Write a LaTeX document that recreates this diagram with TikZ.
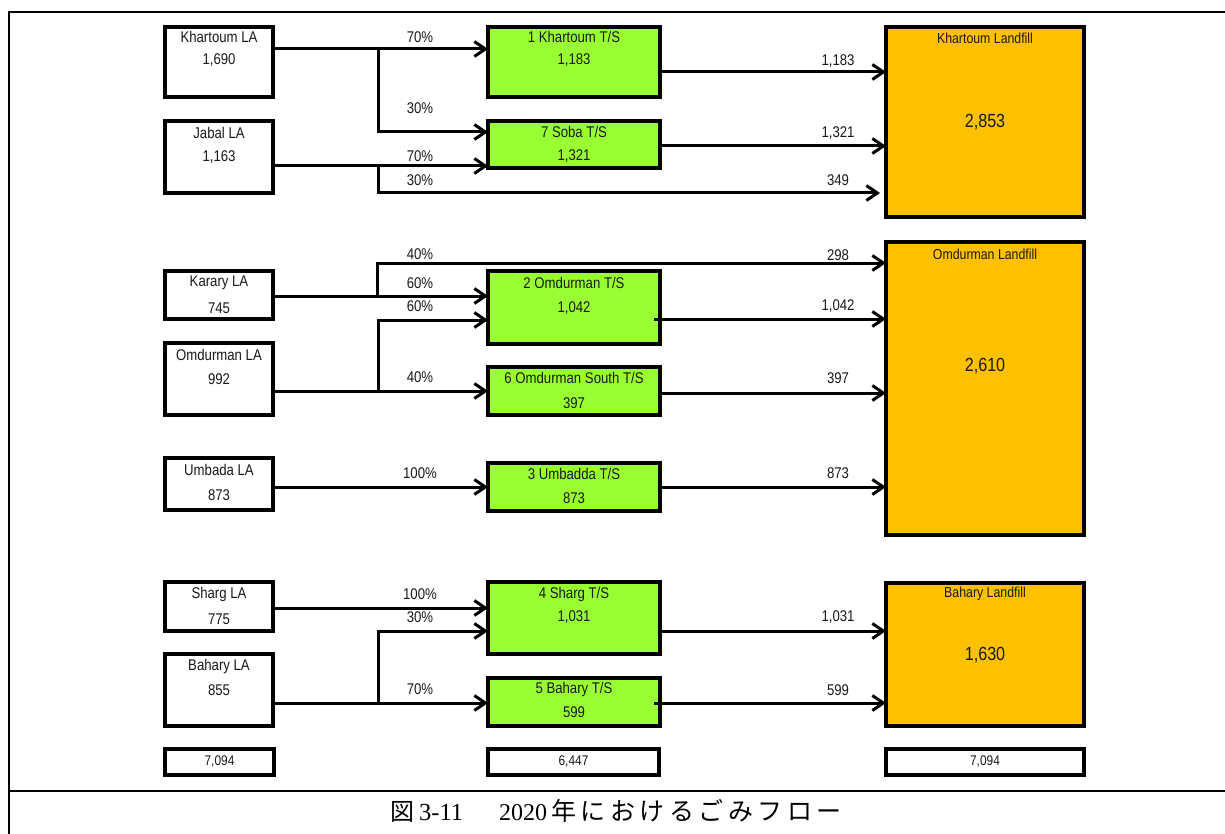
\documentclass[tikz,border=0pt]{standalone}
\usepackage{fontspec}
\setmainfont{Liberation Sans}[FakeStretch=0.85]
\newfontfamily\jpfont{Noto Sans CJK JP}
\newfontfamily\jpspaced{Noto Sans CJK JP}[LetterSpace=18]
\newfontfamily\capserif{Liberation Serif}
\usetikzlibrary{arrows.meta}
\definecolor{tsgreen}{RGB}{153,255,51}
\definecolor{lforange}{RGB}{255,192,0}
\definecolor{txt}{RGB}{25,25,25}
\begin{document}
\begin{tikzpicture}[x=1pt,y=-1pt,
  box/.style={draw=black,line width=3.5pt,anchor=north west,inner sep=0pt,outer sep=0pt},
  labox/.style={box,fill=white,minimum width=108pt},
  tsbox/.style={box,fill=tsgreen,minimum width=172pt},
  lfbox/.style={box,fill=lforange,minimum width=198pt},
  totbox/.style={box,fill=white,minimum height=26pt},
  lbl/.style={text=txt,font=\fontsize{15.5}{18}\selectfont,inner sep=0pt},
  big/.style={text=txt,font=\fontsize{19}{22}\selectfont,inner sep=0pt},
  small/.style={text=txt,font=\fontsize{14}{16}\selectfont,inner sep=0pt},
  captext/.style={inner sep=0pt,anchor=base west,text=black},
  arr/.style={line width=3pt,-{Straight Barb[length=11pt,width=15pt,line width=3pt]}},
]
\useasboundingbox (0,0) rectangle (1225,834);
% frame
\draw[line width=2.2pt] (1225,12) -- (9,12) -- (9,834);
\draw[line width=2.2pt] (9,791) -- (1225,791);
\node[captext] (capa) at (390,820) {\fontsize{24}{26}\selectfont\jpfont 図};
\node[captext] (capb) at (419,820) {\fontsize{24.5}{26}\selectfont\capserif 3-11};
\node[captext] (capc) at (499,820) {\fontsize{24}{26}\selectfont\capserif 2020};
\node[captext] (capd) at (551,820) {\fontsize{25}{27}\selectfont\jpspaced 年におけるごみフロー};

% LA boxes
\node[labox,minimum height=70pt] (kla) at (165,27) {};
\node[labox,minimum height=72pt] (jla) at (165,121) {};
\node[labox,minimum height=48pt] (kala) at (165,271) {};
\node[labox,minimum height=72pt] (ola) at (165,343) {};
\node[labox,minimum height=52pt] (ula) at (165,458) {};
\node[labox,minimum height=49pt] (sla) at (165,582) {};
\node[labox,minimum height=72pt] (bla) at (165,654) {};
\node[lbl] (kla1) at (219,37) {Khartoum LA};
\node[lbl] (kla2) at (219,60) {1,690};
\node[lbl] (jla1) at (219,133) {Jabal LA};
\node[lbl] (jla2) at (219,157) {1,163};
\node[lbl] (kala1) at (219,283) {Karary LA};
\node[lbl] (kala2) at (219,308) {745};
\node[lbl] (ola1) at (219,355) {Omdurman LA};
\node[lbl] (ola2) at (219,379) {992};
\node[lbl] (ula1) at (219,470) {Umbada LA};
\node[lbl] (ula2) at (219,495) {873};
\node[lbl] (sla1) at (219,594) {Sharg LA};
\node[lbl] (sla2) at (219,619) {775};
\node[lbl] (bla1) at (219,666) {Bahary LA};
\node[lbl] (bla2) at (219,690) {855};

% T/S boxes
\node[tsbox,minimum height=70pt] (ts1) at (488,27) {};
\node[tsbox,minimum height=47pt] (ts7) at (488,121) {};
\node[tsbox,minimum height=73pt] (ts2) at (488,271) {};
\node[tsbox,minimum height=48pt] (ts6) at (488,367) {};
\node[tsbox,minimum height=48pt] (ts3) at (488,463) {};
\node[tsbox,minimum height=72pt] (ts4) at (488,582) {};
\node[tsbox,minimum height=48pt] (ts5) at (488,678) {};
\node[lbl] (ts1a) at (574,37) {1 Khartoum T/S};
\node[lbl] (ts1b) at (574,60) {1,183};
\node[lbl] (ts7a) at (574,132) {7 Soba T/S};
\node[lbl] (ts7b) at (574,156) {1,321};
\node[lbl] (ts2a) at (574,283) {2 Omdurman T/S};
\node[lbl] (ts2b) at (574,308) {1,042};
\node[lbl] (ts6a) at (574,378) {6 Omdurman South T/S};
\node[lbl] (ts6b) at (574,403) {397};
\node[lbl] (ts3a) at (574,474) {3 Umbadda T/S};
\node[lbl] (ts3b) at (574,498) {873};
\node[lbl] (ts4a) at (574,594) {4 Sharg T/S};
\node[lbl] (ts4b) at (574,617) {1,031};
\node[lbl] (ts5a) at (574,689) {5 Bahary T/S};
\node[lbl] (ts5b) at (574,712) {599};

% Landfill boxes
\node[lfbox,minimum height=190pt] (lf1) at (886,27) {};
\node[lfbox,minimum height=293pt] (lf2) at (886,242) {};
\node[lfbox,minimum height=143pt] (lf3) at (886,583) {};
\node[lbl,font=\fontsize{14.5}{16}\selectfont] (lf1a) at (985,38) {Khartoum Landfill};
\node[big] (lf1b) at (985,122) {2,853};
\node[lbl,font=\fontsize{14.5}{16}\selectfont] (lf2a) at (985,254) {Omdurman Landfill};
\node[big] (lf2b) at (985,366) {2,610};
\node[lbl,font=\fontsize{14.5}{16}\selectfont] (lf3a) at (985,594) {Bahary Landfill};
\node[big] (lf3b) at (985,655) {1,630};

% totals
\node[totbox,minimum width=109pt] (t1) at (165,749) {};
\node[totbox,minimum width=171pt] (t2) at (488,749) {};
\node[totbox,minimum width=198pt] (t3) at (886,749) {};
\node[small] (t1a) at (t1.center) {7,094};
\node[small] (t2a) at (t2.center) {6,447};
\node[small] (t3a) at (t3.center) {7,094};

% Khartoum group
\coordinate (bk) at (378,49);
\coordinate (bj) at (378,166);
\draw[arr] (kla.east|-0,49) -- (ts1.west|-0,49);
\draw[arr] (bk) |- (ts7.west|-0,132);
\draw[arr] (jla.east|-0,166) -- (ts7.west|-0,166);
\draw[arr] (bj) |- ([xshift=-6pt]lf1.west|-0,193);
\draw[arr] (ts1.east|-0,72) -- (lf1.west|-0,72);
\draw[arr] (ts7.east|-0,146) -- (lf1.west|-0,146);
\node[lbl] (p1) at (420,37) {70\%};
\node[lbl] (p2) at (420,108) {30\%};
\node[lbl] (p3) at (420,156) {70\%};
\node[lbl] (p4) at (420,180) {30\%};
\node[lbl] (v1) at (838,61) {1,183};
\node[lbl] (v2) at (838,133) {1,321};
\node[lbl] (v3) at (838,180) {349};

% Omdurman group
\coordinate (bka) at (377,296);
\coordinate (bo) at (378,391);
\draw[arr] (kala.east|-0,296) -- (ts2.west|-0,296);
\draw[arr] (bka) |- (lf2.west|-0,263);
\draw[arr] (ola.east|-0,391) -- (ts6.west|-0,391);
\draw[arr] (bo) |- (ts2.west|-0,320);
\draw[arr] ([xshift=-6pt]ts2.east|-0,319) -- (lf2.west|-0,319);
\draw[arr] (ts6.east|-0,393) -- (lf2.west|-0,393);
\draw[arr] (ula.east|-0,487) -- (ts3.west|-0,487);
\draw[arr] (ts3.east|-0,487) -- (lf2.west|-0,487);
\node[lbl] (p5) at (420,254) {40\%};
\node[lbl] (p6) at (420,283) {60\%};
\node[lbl] (p7) at (420,306) {60\%};
\node[lbl] (p8) at (420,377) {40\%};
\node[lbl] (p9) at (420,473) {100\%};
\node[lbl] (v4) at (838,255) {298};
\node[lbl] (v5) at (838,306) {1,042};
\node[lbl] (v6) at (838,378) {397};
\node[lbl] (v7) at (838,473) {873};

% Bahary group
\coordinate (bb) at (378,703);
\draw[arr] (sla.east|-0,608) -- (ts4.west|-0,608);
\draw[arr] (bla.east|-0,703) -- (ts5.west|-0,703);
\draw[arr] (bb) |- (ts4.west|-0,631);
\draw[arr] (ts4.east|-0,631) -- (lf3.west|-0,631);
\draw[arr] ([xshift=-6pt]ts5.east|-0,703) -- (lf3.west|-0,703);
\node[lbl] (p10) at (420,594) {100\%};
\node[lbl] (p11) at (420,617) {30\%};
\node[lbl] (p12) at (420,689) {70\%};
\node[lbl] (v8) at (838,617) {1,031};
\node[lbl] (v9) at (838,690) {599};
\end{tikzpicture}
\end{document}
